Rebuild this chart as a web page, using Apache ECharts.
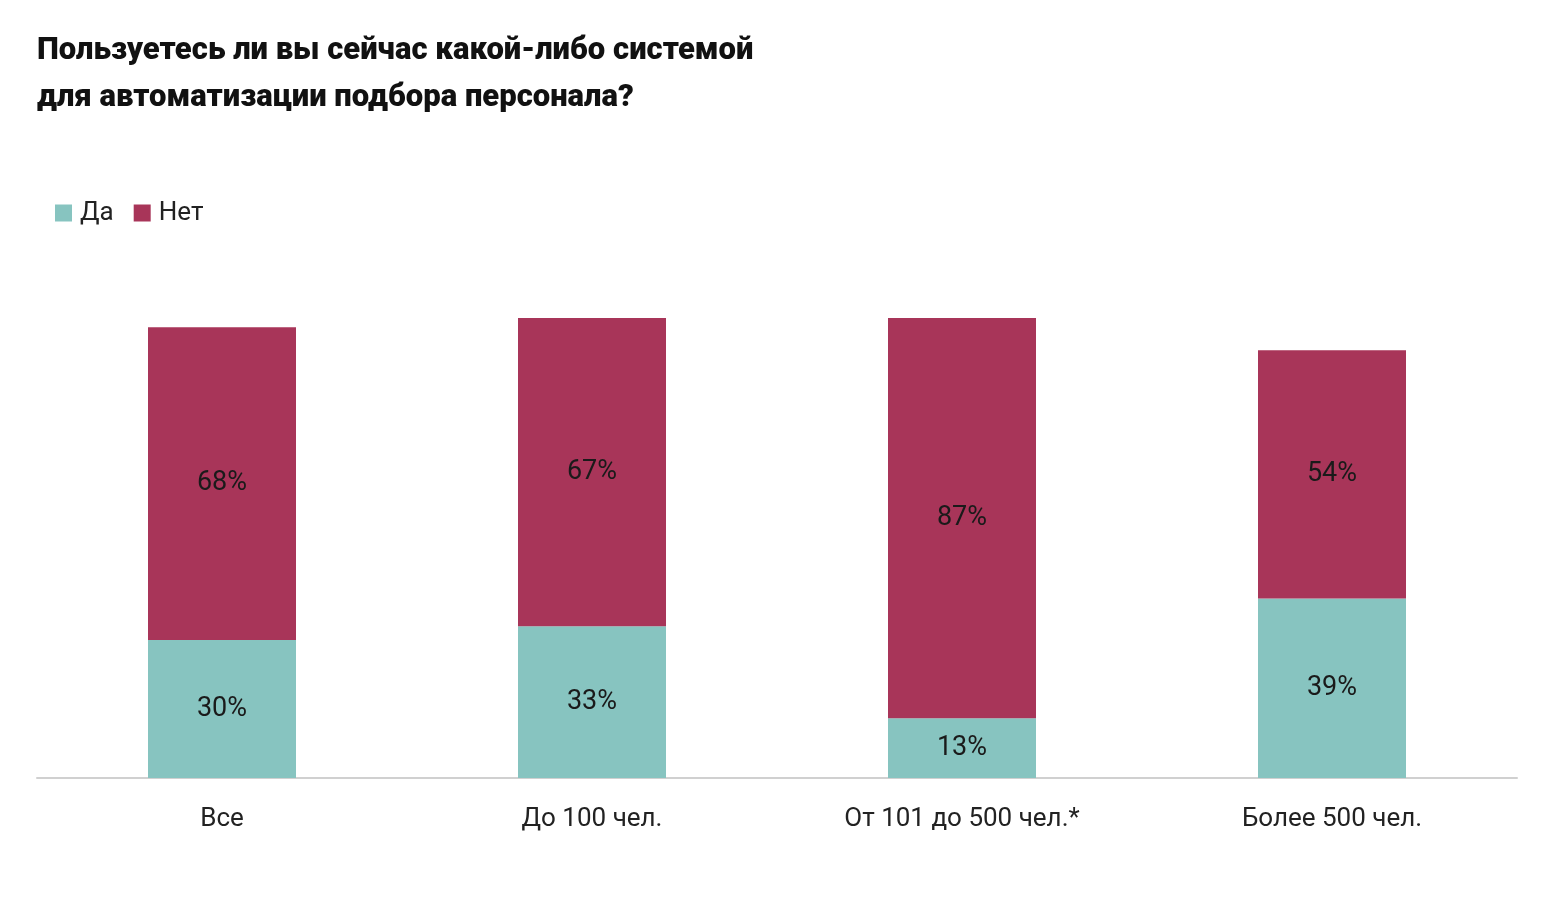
<!DOCTYPE html>
<html><head><meta charset="utf-8">
<script src="https://cdn.jsdelivr.net/npm/echarts@6/dist/echarts.min.js"></script>
<style>html,body{margin:0;padding:0;background:#fff}#c{width:1566px;height:900px}</style>
</head><body><div id="c"></div>
<script>
const categories = ['Все', 'До 100 чел.', 'От 101 до 500 чел.*', 'Более 500 чел.'];
const yesValues = [30, 33, 13, 39];
const noValues = [68, 67, 87, 54];
const seriesNames = ['Да', 'Нет'];
const FONT = 'Roboto, sans-serif';
const chart = echarts.init(document.getElementById('c'));
const lbl = {show: true, position: 'inside', color: '#1a1a1a', fontSize: 27, fontFamily: FONT, formatter: p => p.value + '%'};
chart.setOption({
  animation: false,
  title: {
    text: 'Пользуетесь ли вы сейчас какой-либо системой\nдля автоматизации подбора персонала?',
    left: 32, top: 23,
    textStyle: {fontFamily: FONT, fontWeight: 900, fontSize: 31, lineHeight: 47, color: '#111'}
  },
  legend: {
    left: 50, top: 195, itemWidth: 17, itemHeight: 17, itemGap: 20,
    icon: 'rect',
    textStyle: {fontFamily: FONT, fontSize: 26, color: '#222', padding: [0, 0, 0, 3]},
    data: seriesNames
  },
  grid: {left: 37, right: 49, top: 318, bottom: 122},
  xAxis: {
    type: 'category', data: categories,
    axisLine: {lineStyle: {color: '#d0d0d0', width: 2}},
    axisTick: {show: false},
    axisLabel: {fontFamily: FONT, fontSize: 26, color: '#222', margin: 28}
  },
  yAxis: {type: 'value', min: 0, max: 100, show: false, splitLine: {show: false}},
  series: [
    {name: seriesNames[0], type: 'bar', stack: 't', data: yesValues, barWidth: '40%', itemStyle: {color: '#87C4C0'}, label: lbl},
    {name: seriesNames[1], type: 'bar', stack: 't', data: noValues, barWidth: '40%', itemStyle: {color: '#A83559'}, label: lbl}
  ]
});
</script></body></html>
